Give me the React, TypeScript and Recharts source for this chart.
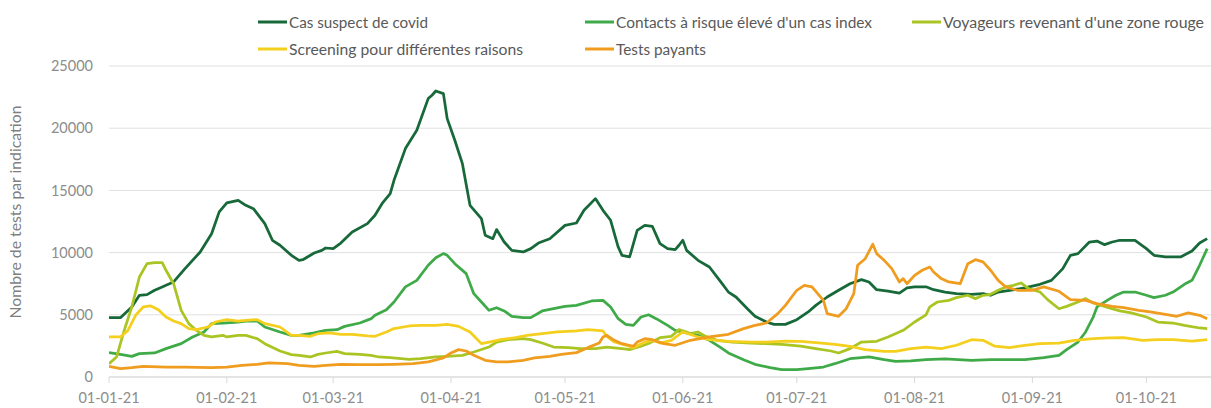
import React from 'react';
import { LineChart, Line, XAxis, YAxis, CartesianGrid, Legend } from 'recharts';

// ---- Axis definitions ----
const tickDays = [0, 31, 59, 90, 120, 151, 181, 212, 243, 273];
const tickLabels = ['01-01-21', '01-02-21', '01-03-21', '01-04-21', '01-05-21', '01-06-21', '01-07-21', '01-08-21', '01-09-21', '01-10-21'];
const yTicks = [0, 5000, 10000, 15000, 20000, 25000];
const yAxisTitle = 'Nombre de tests par indication';

// ---- Series (day index since 01-01-21, tests) ----
const casSuspect: [number, number][] = [
  [0, 4770], [3, 4770], [6, 5630], [8, 6570], [10, 6620], [12, 6970], [14, 7240], [15, 7370], [17, 7640], [20, 8710],
  [24, 10050], [27, 11520], [29, 13270], [31, 13990], [34, 14200], [36, 13800], [38, 13530], [41, 12330], [43, 10990],
  [45, 10590], [48, 9780], [50, 9380], [51, 9430], [54, 9970], [56, 10180], [57, 10370], [59, 10320], [61, 10770],
  [64, 11660], [68, 12330], [70, 13000], [72, 14000], [74, 14740], [75, 15810], [78, 18360], [81, 19830], [84, 22380],
  [85, 22650], [86, 22990], [88, 22780], [89, 20770], [91, 19030], [93, 17150], [95, 13800], [98, 12730], [99, 11390],
  [101, 11120], [102, 11850], [104, 10850], [106, 10180], [109, 10050], [111, 10320], [113, 10770], [116, 11120],
  [120, 12190], [123, 12380], [125, 13400], [128, 14340], [130, 13400], [132, 12600], [134, 10450], [135, 9780],
  [137, 9650], [139, 11790], [141, 12190], [143, 12100], [145, 10720], [147, 10320], [149, 10240], [150, 10590],
  [151, 10990], [152, 10180], [155, 9380], [158, 8840], [161, 7640], [163, 6830], [165, 6430], [168, 5490], [170, 4880],
  [173, 4420], [175, 4230], [178, 4230], [181, 4610], [184, 5230], [186, 5760], [189, 6430], [192, 6970], [195, 7500],
  [198, 7830], [200, 7640], [202, 7020], [205, 6910], [208, 6750], [210, 7160], [212, 7240], [215, 7250], [217, 7020],
  [220, 6830], [223, 6700], [227, 6650], [230, 6700], [232, 6570], [234, 6830], [237, 6970], [241, 7160], [245, 7450],
  [248, 7770], [251, 8710], [253, 9780], [255, 9920], [258, 10850], [260, 10930], [262, 10640], [264, 10850],
  [266, 10990], [270, 10990], [273, 10320], [275, 9780], [278, 9650], [282, 9650], [285, 10130], [287, 10770], [289, 11120],
];

const contactsRisque: [number, number][] = [
  [0, 1960], [3, 1820], [6, 1660], [8, 1880], [12, 1930], [15, 2280], [19, 2680], [22, 3220], [25, 3620], [27, 4290],
  [30, 4340], [34, 4420], [36, 4500], [39, 4500], [41, 4020], [45, 3620], [48, 3350], [50, 3350], [54, 3540], [57, 3750],
  [60, 3800], [62, 4070], [66, 4340], [69, 4690], [70, 4960], [73, 5410], [75, 6030], [78, 7240], [81, 7770], [84, 8980],
  [86, 9590], [88, 9920], [89, 9780], [91, 9110], [94, 8310], [96, 6700], [98, 6030], [100, 5360], [102, 5570],
  [104, 5310], [106, 4880], [109, 4770], [111, 4770], [114, 5310], [117, 5490], [120, 5680], [123, 5760], [127, 6110],
  [130, 6160], [132, 5630], [134, 4690], [136, 4230], [138, 4150], [140, 4820], [142, 5000], [144, 4690], [147, 4150],
  [149, 3750], [152, 3540], [155, 3350], [158, 2950], [161, 2360], [163, 1930], [167, 1390], [170, 1020], [174, 750],
  [177, 590], [181, 590], [184, 670], [188, 800], [191, 1070], [195, 1470], [198, 1550], [200, 1610], [204, 1390],
  [207, 1260], [211, 1290], [215, 1390], [220, 1450], [227, 1340], [232, 1390], [241, 1390], [246, 1550], [250, 1740],
  [252, 2200], [255, 2810], [257, 3620], [259, 4820], [260, 5630], [263, 6220], [265, 6570], [267, 6830], [270, 6830],
  [273, 6570], [275, 6380], [278, 6570], [280, 6830], [283, 7450], [285, 7770], [287, 8980], [289, 10320],
];

const voyageursZoneRouge: [number, number][] = [
  [0, 1070], [2, 1610], [4, 3750], [6, 5630], [8, 8040], [10, 9110], [12, 9190], [14, 9190], [15, 8580], [17, 7500],
  [19, 5360], [21, 4290], [23, 3750], [25, 3350], [27, 3220], [30, 3350], [31, 3220], [34, 3350], [36, 3350], [39, 3080],
  [41, 2680], [45, 2090], [48, 1800], [50, 1740], [53, 1610], [55, 1820], [57, 1930], [60, 2060], [62, 1880], [66, 1820],
  [69, 1740], [71, 1610], [74, 1550], [79, 1420], [82, 1470], [86, 1610], [89, 1660], [93, 1740], [96, 2010], [100, 2410],
  [102, 2810], [105, 3000], [109, 3080], [111, 3000], [114, 2730], [117, 2410], [121, 2360], [124, 2280], [128, 2280],
  [131, 2410], [135, 2280], [137, 2200], [140, 2470], [142, 2700], [145, 3160], [148, 3270], [150, 3810], [152, 3620],
  [153, 3480], [155, 3620], [157, 3270], [160, 2950], [164, 2810], [169, 2730], [173, 2680], [177, 2630], [182, 2490],
  [186, 2280], [190, 2090], [192, 1930], [195, 2280], [198, 2810], [202, 2870], [205, 3220], [209, 3750], [212, 4420],
  [215, 5000], [216, 5630], [218, 6030], [221, 6160], [223, 6380], [226, 6570], [228, 6300], [230, 6570], [232, 6650],
  [234, 6970], [236, 7240], [238, 7370], [240, 7560], [242, 7100], [245, 6830], [247, 6220], [250, 5490], [252, 5680],
  [255, 6030], [257, 6300], [259, 5950], [263, 5570], [266, 5310], [269, 5150], [273, 4820], [276, 4420], [280, 4340],
  [283, 4150], [287, 3940], [289, 3890],
];

const screening: [number, number][] = [
  [0, 3220], [3, 3220], [5, 3750], [7, 4960], [9, 5630], [11, 5710], [13, 5410], [15, 4820], [17, 4500], [19, 4290],
  [21, 3890], [23, 3810], [26, 4020], [28, 4420], [31, 4610], [34, 4500], [36, 4560], [39, 4610], [41, 4290], [45, 4020],
  [48, 3350], [50, 3350], [53, 3270], [55, 3480], [58, 3540], [61, 3430], [64, 3430], [68, 3300], [70, 3270], [73, 3620],
  [75, 3890], [79, 4100], [82, 4150], [86, 4150], [89, 4230], [92, 4070], [95, 3620], [97, 3000], [98, 2680], [101, 2870],
  [103, 3000], [107, 3160], [110, 3350], [114, 3480], [118, 3620], [123, 3700], [126, 3810], [130, 3700], [131, 3270],
  [133, 2810], [136, 2550], [138, 2360], [141, 2810], [143, 2950], [145, 2730], [148, 2950], [151, 3620], [155, 3220],
  [158, 3000], [163, 2870], [169, 2810], [173, 2810], [178, 2890], [182, 2870], [186, 2760], [191, 2630], [195, 2470],
  [199, 2200], [204, 2060], [207, 2060], [211, 2280], [215, 2410], [219, 2280], [223, 2550], [227, 3000], [230, 2950],
  [233, 2490], [237, 2360], [241, 2550], [245, 2680], [250, 2730], [254, 2950], [259, 3080], [263, 3140], [267, 3160],
  [272, 2950], [276, 3000], [280, 3000], [285, 2890], [289, 3000],
];

const testsPayants: [number, number][] = [
  [0, 860], [3, 670], [6, 750], [9, 860], [15, 800], [20, 800], [27, 750], [31, 800], [35, 940], [39, 1020], [42, 1130],
  [47, 1070], [50, 940], [54, 860], [57, 940], [61, 1020], [66, 990], [71, 990], [75, 1020], [80, 1070], [84, 1210],
  [88, 1530], [90, 1930], [92, 2200], [94, 2090], [96, 1740], [99, 1340], [102, 1210], [105, 1210], [109, 1340],
  [112, 1530], [116, 1660], [119, 1820], [123, 1960], [126, 2360], [129, 2730], [130, 3220], [131, 3350], [133, 2950],
  [135, 2680], [138, 2470], [139, 2810], [141, 3080], [143, 3000], [146, 2680], [149, 2550], [153, 2950], [158, 3220],
  [163, 3430], [167, 3890], [170, 4150], [173, 4340], [176, 5090], [178, 5760], [181, 6970], [183, 7370], [185, 7240],
  [188, 6160], [189, 5090], [192, 4880], [194, 5490], [196, 6700], [197, 8980], [199, 9510], [201, 10670], [202, 9920],
  [204, 9380], [206, 8710], [208, 7640], [209, 7910], [210, 7500], [212, 8170], [214, 8580], [216, 8840], [217, 8440],
  [219, 7910], [221, 7640], [224, 7500], [226, 9110], [228, 9430], [230, 9250], [232, 8580], [234, 7770], [236, 7240],
  [239, 6970], [243, 6970], [246, 7240], [250, 6890], [253, 6220], [257, 6160], [260, 5900], [264, 5680], [267, 5570],
  [271, 5360], [274, 5230], [278, 5040], [281, 4880], [284, 5150], [287, 4960], [289, 4690],
];

const seriesNames = [
  'Cas suspect de covid',
  "Contacts à risque élevé d'un cas index",
  "Voyageurs revenant d'une zone rouge",
  'Screening pour différentes raisons',
  'Tests payants',
];
const seriesKeys = ['cas', 'contacts', 'voyageurs', 'screening', 'payants'];
const seriesColors = ['#17693a', '#3faa48', '#a9c523', '#f5cf1d', '#ef9c1f'];
const seriesPairs = [casSuspect, contactsRisque, voyageursZoneRouge, screening, testsPayants];

// ---- Styling / layout ----
const FONT = 'Lato, "Open Sans", sans-serif';
const W = 1211;
const H = 408;

// legend slots (icon start x, row centre y, text width) in the order of seriesNames
const legendSlots = [
  { x: 258, y: 22, w: 139 },
  { x: 585, y: 22, w: 256 },
  { x: 912, y: 22, w: 261 },
  { x: 258, y: 49, w: 234 },
  { x: 585, y: 49, w: 90 },
];

const seriesData = seriesPairs.map((pairs, i) =>
  pairs.map(([day, v]) => ({ day, [seriesKeys[i]]: v }))
);

const LegendContent = (props: any) => {
  const payload: any[] = props.payload || [];
  return (
    <svg width={W} height={60} style={{ display: 'block', overflow: 'visible' }}>
      {payload.map((entry: any) => {
        const idx = seriesNames.indexOf(entry.value);
        if (idx < 0) return null;
        const s = legendSlots[idx];
        return (
          <g key={entry.value}>
            <line x1={s.x} x2={s.x + 29} y1={s.y} y2={s.y} stroke={seriesColors[idx]} strokeWidth={3} />
            <text
              x={s.x + 31}
              y={s.y}
              dominantBaseline="central"
              fill="#595959"
              fontSize={15.5}
              fontFamily={FONT}
              textLength={s.w}
              lengthAdjust="spacingAndGlyphs"
            >
              {entry.value}
            </text>
          </g>
        );
      })}
    </svg>
  );
};

const YTitle = (props: any) => {
  const vb = props.viewBox || { x: 0, y: 66, width: 109, height: 311 };
  const cx = vb.x + 15;
  const cy = vb.y + vb.height / 2 - 9.5;
  return (
    <text
      x={cx}
      y={cy}
      transform={`rotate(-90 ${cx} ${cy})`}
      textAnchor="middle"
      dominantBaseline="central"
      fill="#7f7f7f"
      fontSize={15}
      fontFamily={FONT}
      textLength={213}
      lengthAdjust="spacingAndGlyphs"
    >
      {yAxisTitle}
    </text>
  );
};

export default function App() {
  return (
    <div style={{ position: 'absolute', left: 0, top: 0, width: W, height: H, background: '#ffffff' }}>
      <LineChart width={W} height={H} margin={{ top: 66, right: 0, bottom: 1, left: 0 }} style={{ fontFamily: FONT }}>
        <CartesianGrid horizontal vertical={false} stroke="#e0e0e0" />
        <XAxis
          type="number"
          dataKey="day"
          domain={[0, 290]}
          ticks={tickDays}
          interval={0}
          tickFormatter={(d: number) => tickLabels[tickDays.indexOf(d)] ?? ''}
          axisLine={{ stroke: '#d9d9d9' }}
          tickLine={{ stroke: '#d9d9d9' }}
          tickSize={6}
          tickMargin={10}
          height={30}
          tick={{ fill: '#8c8c8c', fontSize: 14.5, fontFamily: FONT }}
          allowDataOverflow
        />
        <YAxis
          type="number"
          domain={[0, 25000]}
          ticks={yTicks}
          interval={0}
          axisLine={false}
          tickLine={false}
          tickSize={6}
          tickMargin={10}
          width={109}
          tick={{ fill: '#8c8c8c', fontSize: 14.5, fontFamily: FONT }}
          label={<YTitle />}
        />
        <Legend
          verticalAlign="middle"
          align="center"
          layout="horizontal"
          content={<LegendContent />}
          wrapperStyle={{ top: 0, left: 0, width: W, height: 60 }}
        />
        {seriesKeys.map((key, i) => (
          <Line
            key={key}
            data={seriesData[i]}
            dataKey={key}
            name={seriesNames[i]}
            type="linear"
            stroke={seriesColors[i]}
            strokeWidth={2.75}
            strokeLinejoin="round"
            dot={false}
            activeDot={false}
            isAnimationActive={false}
          />
        ))}
      </LineChart>
    </div>
  );
}
